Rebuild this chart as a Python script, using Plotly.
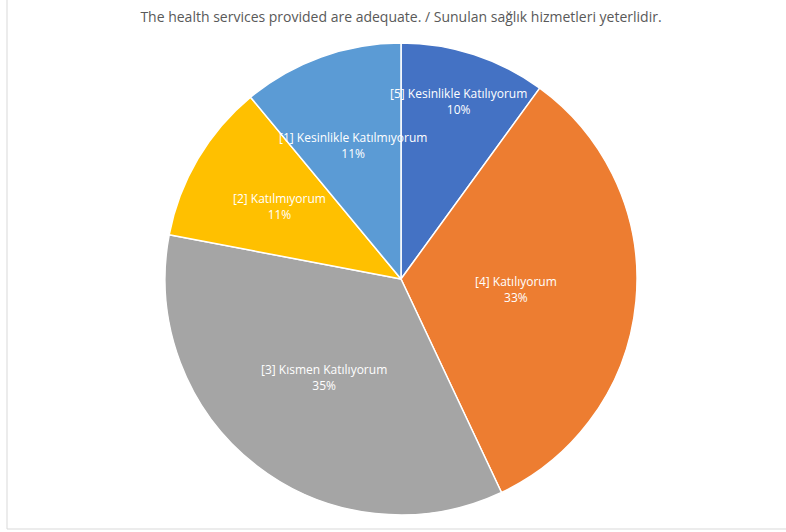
import math
import plotly.graph_objects as go

labels = ["[5] Kesinlikle Katılıyorum", "[4] Katılıyorum", "[3] Kısmen Katılıyorum",
          "[2] Katılmıyorum", "[1] Kesinlikle Katılmıyorum"]
values = [10, 33, 35, 11, 11]
colors = ["#4472C4", "#ED7D31", "#A5A5A5", "#FFC000", "#5B9BD5"]
title = "The health services provided are adequate. / Sunulan sağlık hizmetleri yeterlidir."

W, H = 786, 532
# pie placement in pixels (centre and radius)
CX, CY, R = 401, 279, 236
# how far out from the centre each data label sits (fraction of radius), Excel-like
label_r = [0.79, 0.49, 0.53, 0.6, 0.6]

fig = go.Figure()

fig.add_trace(go.Pie(
    labels=labels,
    values=values,
    sort=False,
    direction="clockwise",
    rotation=0,
    marker=dict(colors=colors, line=dict(color="white", width=1.5)),
    textinfo="none",
    hoverinfo="label+percent",
    showlegend=False,
    domain=dict(x=[(CX - R) / W, (CX + R) / W], y=[(H - CY - R) / H, (H - CY + R) / H]),
))

# data labels, placed at each slice's mid angle
total = sum(values)
start = 0.0
for lab, v, f in zip(labels, values, label_r):
    ang = math.radians((start + v / 2) / total * 360)
    start += v
    px = CX + f * R * math.sin(ang)
    py = CY - f * R * math.cos(ang)
    fig.add_annotation(
        x=px / W, y=1 - py / H, xref="paper", yref="paper",
        text=f"{lab}<br>{round(v / total * 100)}%",
        showarrow=False, align="center", xanchor="center", yanchor="middle",
        font=dict(family="Open Sans, Lato, sans-serif", size=12, color="white"),
    )

# thin frame like the original chart area
fig.add_shape(type="line", xref="paper", yref="paper",
              x0=7 / W, x1=7 / W, y0=(H - 529) / H, y1=1,
              line=dict(color="#d9d9d9", width=1))
fig.add_shape(type="line", xref="paper", yref="paper",
              x0=7 / W, x1=1, y0=(H - 529) / H, y1=(H - 529) / H,
              line=dict(color="#d9d9d9", width=1))

fig.update_layout(
    width=W,
    height=H,
    margin=dict(l=0, r=0, t=0, b=0),
    title=dict(text=title, x=CX / W, xanchor="center", y=1 - 17 / H, yanchor="middle",
               font=dict(family="Open Sans, Lato, sans-serif", size=14, color="#595959")),
    paper_bgcolor="white",
    plot_bgcolor="white",
)

fig.write_html("out.html", config={"displayModeBar": False},
               post_script="document.body.style.margin='0';")
